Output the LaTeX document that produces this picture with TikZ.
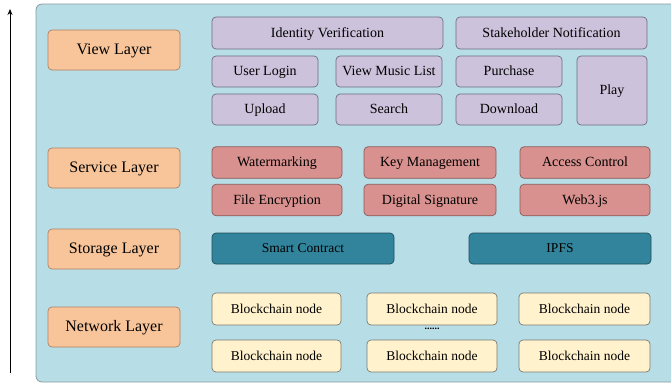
\documentclass[tikz,border=0pt]{standalone}
\usepackage{fontspec}
\setmainfont{Liberation Serif}
\newfontfamily\boxfont{Liberation Serif}
\usetikzlibrary{arrows.meta}

\definecolor{panelfill}{HTML}{B7DDE7}
\definecolor{panelline}{HTML}{8A9AA0}
\definecolor{layerfill}{HTML}{F8C59B}
\definecolor{layerline}{HTML}{B08060}
\definecolor{viewfill}{HTML}{CCC2DB}
\definecolor{viewline}{HTML}{6E6E80}
\definecolor{servfill}{HTML}{D8918E}
\definecolor{servline}{HTML}{8A5A58}
\definecolor{storfill}{HTML}{31849B}
\definecolor{storline}{HTML}{1F4F5C}
\definecolor{netfill}{HTML}{FFF2CC}
\definecolor{netline}{HTML}{7A7A70}

\tikzset{
  basebox/.style={rounded corners=4pt, line width=0.7pt, inner sep=0pt,
    align=center, text=black, text height=0.95em, text depth=0.1em},
  layerbox/.style={basebox, fill=layerfill, draw=layerline,
    minimum width=132pt, minimum height=40pt,
    font=\boxfont\fontsize{16}{18}\selectfont},
  viewbox/.style={basebox, fill=viewfill, draw=viewline,
    minimum height=31pt, font=\boxfont\fontsize{14}{16}\selectfont},
  servbox/.style={basebox, fill=servfill, draw=servline,
    minimum height=31.5pt, font=\boxfont\fontsize{14}{16}\selectfont},
  storbox/.style={basebox, fill=storfill, draw=storline,
    minimum width=182pt, minimum height=31pt, font=\boxfont\fontsize{13.5}{16}\selectfont},
  netbox/.style={basebox, fill=netfill, draw=netline,
    minimum height=32pt, font=\boxfont\fontsize{13.5}{16}\selectfont},
}

\begin{document}
\begin{tikzpicture}[x=1pt, y=-1pt]
\useasboundingbox (0,0) rectangle (671,383);

% outer panel
\draw[fill=panelfill, draw=panelline, line width=0.8pt, rounded corners=6pt]
  (36,4) rectangle (680,382);

% upward axis
\coordinate (axbot) at (10,373);
\coordinate (axtop) at (10,9);
\draw[-{Stealth[length=6pt,width=5pt]}, line width=0.7pt] (axbot) -- (axtop);

% layer labels
\node[layerbox] (lview) at (114,50)  {View Layer};
\node[layerbox] (lserv) at (114,168) {Service Layer};
\node[layerbox] (lstor) at (114,249) {Storage Layer};
\node[layerbox] (lnet)  at (114,327) {Network Layer};

% view layer
\node[viewbox, minimum width=231pt, minimum height=32pt] (idv) at (327.5,33) {Identity Verification};
\node[viewbox, minimum width=191pt, minimum height=32pt] (stk) at (551.5,33) {Stakeholder Notification};
\node[viewbox, minimum width=106pt] (login)  at (265,71.5)  {User Login};
\node[viewbox, minimum width=106pt] (vlist)  at (389,71.5)  {View Music List};
\node[viewbox, minimum width=106pt] (buy)    at (509,71.5)  {Purchase};
\node[viewbox, minimum width=70pt, minimum height=69pt] (play) at (612,90.5) {Play};
\node[viewbox, minimum width=106pt] (upload) at (265,109.5) {Upload};
\node[viewbox, minimum width=106pt] (search) at (389,109.5) {Search};
\node[viewbox, minimum width=106pt] (down)   at (509,109.5) {Download};

% service layer
\node[servbox, minimum width=130pt] (wm)   at (277,162.5) {Watermarking};
\node[servbox, minimum width=132pt] (km)   at (430,162.5) {Key Management};
\node[servbox, minimum width=130pt] (ac)   at (585,162.5) {Access Control};
\node[servbox, minimum width=130pt] (enc)  at (277,200)   {File Encryption};
\node[servbox, minimum width=132pt] (sig)  at (430,200)   {Digital Signature};
\node[servbox, minimum width=130pt] (web3) at (585,200)   {Web3.js};

% storage layer
\node[storbox] (sc)   at (303,248.5) {Smart Contract};
\node[storbox] (ipfs) at (560,248.5) {IPFS};

% network layer
\node[netbox, minimum width=129pt] (bn1) at (276.5,309) {Blockchain node};
\node[netbox, minimum width=130pt] (bn2) at (432,309)   {Blockchain node};
\node[netbox, minimum width=131pt] (bn3) at (584.5,309) {Blockchain node};
\node[netbox, minimum width=129pt] (bn4) at (276.5,356) {Blockchain node};
\node[netbox, minimum width=130pt] (bn5) at (432,356)   {Blockchain node};
\node[netbox, minimum width=131pt] (bn6) at (584.5,356) {Blockchain node};
\node[inner sep=0pt, font=\boxfont\fontsize{10}{10}\selectfont\bfseries] (dots) at (432,328.5) {......};
\end{tikzpicture}
\end{document}
